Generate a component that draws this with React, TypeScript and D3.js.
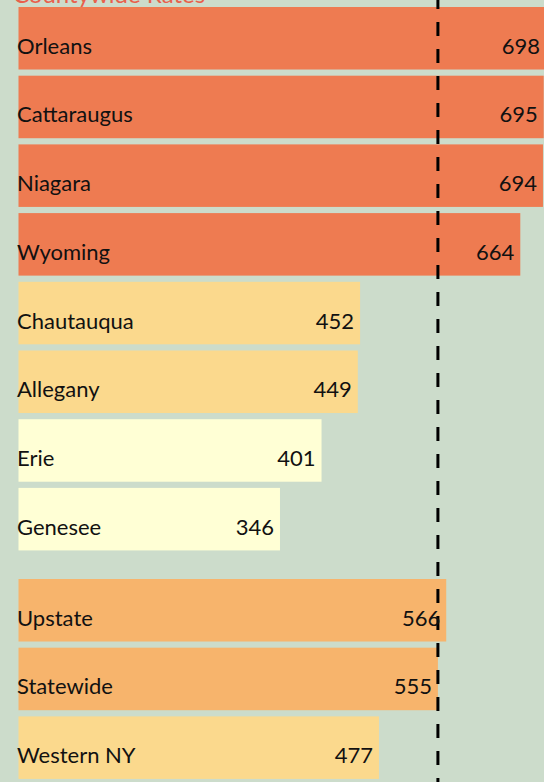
import * as d3 from 'd3';

const counties = ['Orleans', 'Cattaraugus', 'Niagara', 'Wyoming', 'Chautauqua', 'Allegany', 'Erie', 'Genesee'];
const countyRates = [698, 695, 694, 664, 452, 449, 401, 346];
const regions = ['Upstate', 'Statewide', 'Western NY'];
const regionRates = [566, 555, 477];
const referenceRate = 555;
const title = 'Countywide Rates';

const width = 544;
const height = 782;

const font = 'Lato, "Open Sans", sans-serif';

export default function App() {
  const x = d3.scaleLinear().domain([0, 700]).range([18.5, 18.5 + 700 * 0.7557]);

  const yCounty = d3.scaleBand().domain(counties).range([7, 7 + 68.7 * (counties.length - 0.09)]).paddingInner(0.09);
  const yRegion = d3.scaleBand().domain(regions).range([579, 579 + 68.7 * (regions.length - 0.09)]).paddingInner(0.09);

  // colour tiers by rate
  const color = d3
    .scaleThreshold<number, string>()
    .domain([420, 500, 600])
    .range(['#FFFFD5', '#FBD98D', '#F7B46C', '#EE7B51']);

  const rows = [
    ...counties.map((c, i) => ({ label: c, value: countyRates[i], y: yCounty(c) || 0, h: yCounty.bandwidth() })),
    ...regions.map((r, i) => ({ label: r, value: regionRates[i], y: yRegion(r) || 0, h: yRegion.bandwidth() })),
  ];

  const refX = x(referenceRate);

  return (
    <svg
      width={width}
      height={height}
      style={{ position: 'absolute', left: 0, top: 0, display: 'block' }}
      fontFamily={font}
    >
      <rect width={width} height={height} fill="#CCDCCB" />
      {/* title sits mostly above the visible area, as in the source crop */}
      <text x={13} y={3} fontSize={24} fill="#E8604C">
        {title}
      </text>
      {rows.map((d) => (
        <rect key={'b' + d.label} x={x(0)} y={d.y} width={x(d.value) - x(0)} height={d.h} fill={color(d.value)} />
      ))}
      <line x1={refX} x2={refX} y1={-5} y2={height} stroke="#000" strokeWidth={3} strokeDasharray="14,13" />
      {rows.map((d) => (
        <g key={'t' + d.label} fontSize={22} fill="#111">
          <text x={17} y={d.y + d.h / 2 + 15.5}>
            {d.label}
          </text>
          <text x={x(d.value) - 6} y={d.y + d.h / 2 + 15.5} textAnchor="end">
            {d.value}
          </text>
        </g>
      ))}
    </svg>
  );
}
